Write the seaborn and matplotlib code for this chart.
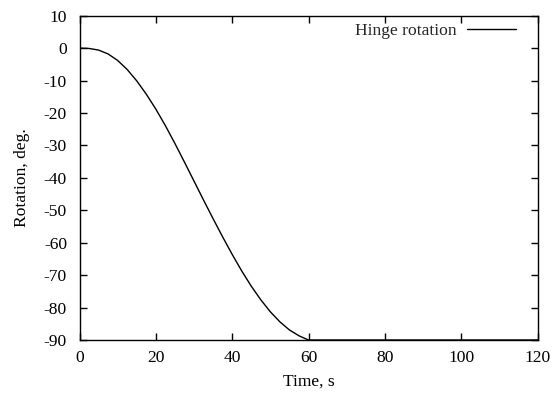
import numpy as np
import pandas as pd
import matplotlib
matplotlib.use("Agg")
import matplotlib.pyplot as plt
import seaborn as sns

time_s = [0, 2.5, 5, 7.5, 10, 12.5, 15, 17.5, 20, 22.5, 25, 27.5, 30, 32.5, 35,
          37.5, 40, 42.5, 45, 47.5, 50, 52.5, 55, 57.5, 60, 80, 100, 120]
rotation_deg = [0, -0.1, -0.6, -1.8, -3.8, -6.6, -10.1, -14.2, -18.8, -23.9, -29.4,
                -35.15, -41.0, -46.85, -52.6, -58.2, -63.6, -68.7, -73.4, -77.6, -81.3,
                -84.4, -86.9, -88.7, -90, -90, -90, -90]
series_name = "Hinge rotation"
x_ticks = [0, 20, 40, 60, 80, 100, 120]
y_ticks = [10, 0, -10, -20, -30, -40, -50, -60, -70, -80, -90]

df = pd.DataFrame({"Time": time_s, "Rotation": rotation_deg, "series": series_name})

sns.set_theme(style="ticks")
plt.rcParams["font.family"] = ["Liberation Serif", "DejaVu Serif"]
FS = 12.6
plt.rcParams["font.size"] = FS

fig = plt.figure(figsize=(5.54, 3.94), dpi=100)
ax = fig.add_axes([79.5 / 554, 1 - 340 / 394, (537.5 - 79.5) / 554, (340 - 15.7) / 394])

sns.lineplot(data=df, x="Time", y="Rotation", hue="series", palette=["black"],
             linewidth=1.0, ax=ax)

ax.set_xlim(0, 120)
ax.set_ylim(-90, 10)
ax.set_xticks(x_ticks)
ax.set_yticks(y_ticks)
ax.set_xticklabels([str(v) for v in x_ticks], fontsize=FS)
ax.set_yticklabels([str(v) for v in y_ticks], fontsize=FS)
ax.tick_params(direction="in", length=5, width=1, color="black",
               top=True, right=True, labelcolor="black")
ax.tick_params(axis="y", pad=9)
ax.tick_params(axis="x", pad=7)
for s in ax.spines.values():
    s.set_visible(True)
    s.set_color("black")
    s.set_linewidth(1.0)

ax.set_xlabel("Time, s", fontsize=FS, color="black", labelpad=6)
ax.set_ylabel("Rotation, deg.", fontsize=FS, color="black", labelpad=10)

ax.legend(loc="upper right", bbox_to_anchor=(0.980, 1.0145), frameon=False,
          markerfirst=False, fontsize=FS, handlelength=2.8, handletextpad=0.6,
          borderaxespad=0.3)

fig.savefig("out.png", dpi=100)
